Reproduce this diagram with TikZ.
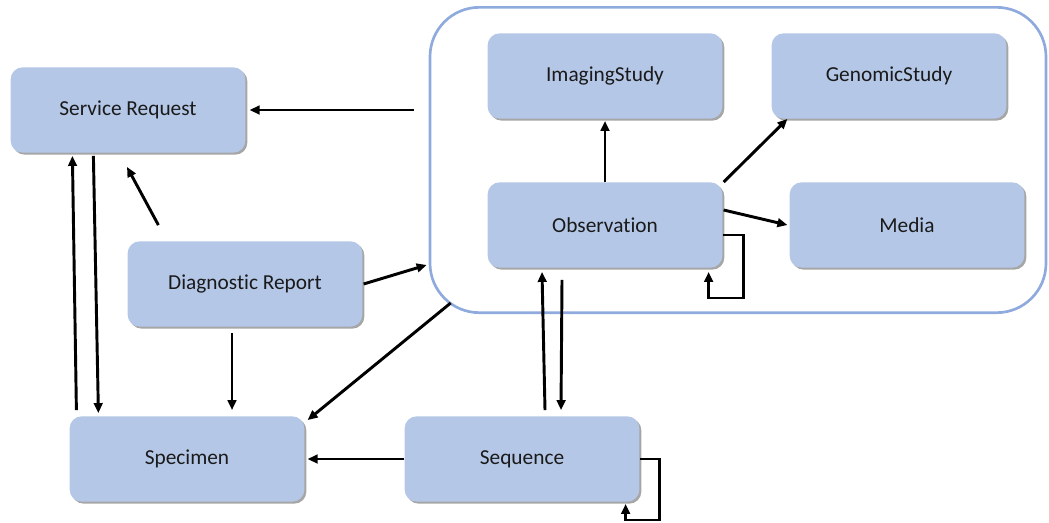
\documentclass[tikz,border=0pt]{standalone}
\usepackage{fontspec}
\setmainfont[Ligatures=NoCommon]{Carlito}
\usepackage{tikz}
\usetikzlibrary{shapes, arrows.meta, shadows, calc, positioning}
\definecolor{boxblue}{HTML}{B4C7E7}
\definecolor{frameblue}{HTML}{8FAADC}
\definecolor{boxtext}{HTML}{1A1A1A}

\tikzset{
    res/.style={draw=none, fill=boxblue, rounded corners=9pt, minimum width=176pt, minimum height=64pt,
        text=boxtext, font=\fontsize{16}{19}\selectfont,
        drop shadow={shadow xshift=1.5pt, shadow yshift=-1.5pt, fill=black, opacity=0.35}},
    container/.style={draw=frameblue, line width=2pt, rounded corners=37pt, minimum width=462pt, minimum height=229pt},
    arr/.style={line width=2.2pt, -{Triangle[length=7.5pt, width=6.5pt]}}
}

\begin{document}
\begin{tikzpicture}[x=0.75pt, y=-0.75pt]
        \useasboundingbox (0,0) rectangle (1049,522);

        \node[container] (OBS) at (738,160) {};

        \node[res] (SR) at (128,110) {Service Request};
        \node[res] (DR) at (245,284) {Diagnostic Report};
        \node[res] (SP) at (187,459) {Specimen};
        \node[res] (SQ) at (522,459) {Sequence};
        \node[res] (IS) at (605,76) {ImagingStudy};
        \node[res] (GS) at (889,76) {GenomicStudy};
        \node[res] (OB) at (605,225) {Observation};
        \node[res] (MD) at (907,225) {Media};

        % left part
        \draw [arr] ($(OBS.west |- SR.east)+(-15,0)$) -- ($(SR.east)+(4,0)$);
        \draw [arr] ($(SP.north west)+(7,-6)$) -- ($(SR.south west)+(62,3)$);
        \draw [arr] ($(SR.south west)+(83,3)$) -- ($(SP.north west)+(29,-3)$);
        \draw [arr] ($(DR.north west)+(31,-16)$) -- ($(SR.south)+(-1,14)$);
        \draw [arr] ($(DR.east)+(1,0)$) -- ($(OBS.west)+(-2,105)$);
        \draw [arr] ($(DR.south)+(-13,6)$) -- ($(SP.north)+(45,-6)$);
        \draw [arr] ($(OBS.south west)+(22,-11)$) -- ($(SP.north east)+(3,4)$);
        \draw [arr] (SQ.west) -- ($(SP.east)+(3,0)$);

        % sequence and observation
        \draw [arr] ($(SQ.north)+(23,-6)$) -- ($(OB.south)+(-63,4)$);
        \draw [arr] ($(OB.south)+(-43,12)$) -- ($(SQ.north)+(39,-6)$);
        \draw [arr] (SQ.east) -| ++(20,61) -| ($(SQ.south east)+(-14,2)$);

        % inside the frame
        \draw [arr] (OB.north) -- ($(IS.south)+(0,2)$);
        \draw [arr] ($(OB.north east)+(1,0)$) -- ($(GS.south west)+(16,0)$);
        \draw [arr] ($(OB.east)+(1,-15)$) -- ($(MD.west)+(-2,0)$);
        \draw [arr] ($(OB.east)+(0,10)$) -| ++(21,63) -| ($(OB.south east)+(-14,4)$);
\end{tikzpicture}
\end{document}
